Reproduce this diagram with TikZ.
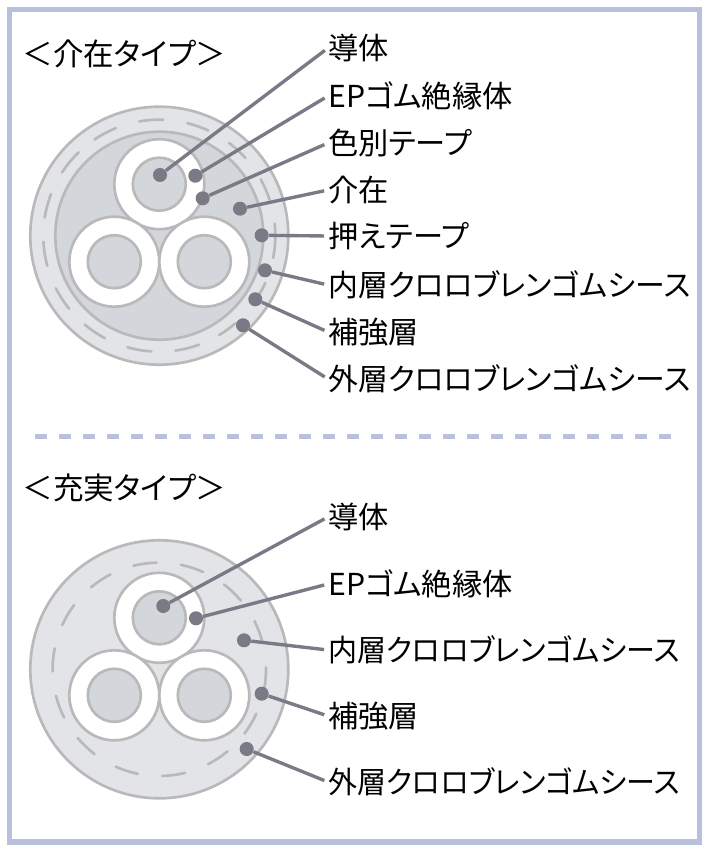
\documentclass[tikz,border=0pt]{standalone}
\usepackage{fontspec}
\setmainfont[RawFeature=+palt]{Noto Sans CJK JP}
\definecolor{framecol}{HTML}{B8C0DE}
\definecolor{ringcol}{HTML}{B9B9B9}
\definecolor{sheathcol}{HTML}{E2E4E8}
\definecolor{fillercol}{HTML}{D3D7DB}
\definecolor{leadcol}{HTML}{7A7A86}
\tikzset{
	ring/.style={draw=ringcol,line width=1.9},
	strand/.style={ring,line cap=round},
	lead/.style={draw=leadcol,line width=2.4,shorten >=2.8},
	dot/.style={circle,fill=leadcol,inner sep=0,minimum size=10},
	part/.style={anchor=west,inner sep=0,font=\fontsize{21.5}{21.5}\selectfont},
	heading/.style={anchor=west,inner sep=0,font=\fontsize{21.7}{21.7}\selectfont}
}
\newcommand{\cores}[2]{%
	\foreach \px/\py in {0/-51.5,-45/26,45/26} {
		\draw [ring,fill=white] (#1+\px,#2+\py) circle (45);
		\draw [ring,fill=fillercol] (#1+\px,#2+\py) circle (26.5);
	}
}
\begin{document}
\begin{tikzpicture}[x=0.25mm,y=-0.25mm]
	\useasboundingbox (0,0) rectangle (709,852);
	\draw [framecol,line width=3.6] (9.5,9.5) rectangle (699.5,842);
	% intervening type
	\node [heading] (head1) at (22.5,54) {＜介在タイプ＞};
	\draw [ring,fill=sheathcol] (159.3,235.7) circle (129);
	\foreach \a/\b in {100/88,76/65,53/42,29/18,6/-11,-24/-36,-49/-59,-70/-82,-94/-106,-118/-130,-141/-153,-165/-177,-201/-189,-226/-213,-248/-236} {
		\draw [strand] ({159.3+116*cos(\a)},{235.7-116*sin(\a)}) arc [start angle=\a,end angle=\b,radius=116,y radius=-116];
	}
	\draw [ring,fill=fillercol] (159.3,235.7) circle (104);
	\cores{159.3}{235.7}
	\node [dot] (d1) at (160,175) {};
	\node [dot] (d2) at (195.3,175.7) {};
	\node [dot] (d3) at (202.7,198.3) {};
	\node [dot] (d4) at (240,208.7) {};
	\node [dot] (d5) at (261.7,235.3) {};
	\node [dot] (d6) at (265,270.3) {};
	\node [dot] (d7) at (255.3,299.3) {};
	\node [dot] (d8) at (243,325.3) {};
	\node [part] (p1) at (328,48) {導体};
	\node [part] (p2) at (328,96) {EPゴム絶縁体};
	\node [part] (p3) at (328,143) {色別テープ};
	\node [part] (p4) at (328,190) {介在};
	\node [part] (p5) at (328,236) {押えテープ};
	\node [part] (p6) at (328,285) {\scalebox{.988}[1]{内層クロロブレンゴムシース}};
	\node [part] (p7) at (328,332) {補強層};
	\node [part] (p8) at (328,379) {\scalebox{.988}[1]{外層クロロブレンゴムシース}};
	\foreach \i in {1,...,8} {
		\draw [lead] (d\i) to (p\i.west);
	}
	\draw [framecol,line width=3.6,dash pattern=on 8.53 off 8.53] (35,436.5) to (672,436.5);
	% solid type
	\node [heading] (head2) at (22.5,488) {＜充実タイプ＞};
	\draw [ring,fill=sheathcol] (159.3,669.3) circle (129);
	\foreach \a in {0,...,13} {
		\draw [strand] ({159.3+106.7*cos(104-25.71*\a)},{669.3-106.7*sin(104-25.71*\a)}) arc [start angle=104-25.71*\a,end angle=91.5-25.71*\a,radius=106.7,y radius=-106.7];
	}
	\cores{159.3}{669.3}
	\node [dot] (d9) at (163.3,606) {};
	\node [dot] (d10) at (196,618.3) {};
	\node [dot] (d11) at (244,640.3) {};
	\node [dot] (d12) at (261.7,693.7) {};
	\node [dot] (d13) at (246.7,749) {};
	\node [part] (p9) at (328,517) {導体};
	\node [part] (p10) at (328,584) {EPゴム絶縁体};
	\node [part] (p11) at (328,650) {\scalebox{.96}[1]{内層クロロブレンゴムシース}};
	\node [part] (p12) at (328,716) {補強層};
	\node [part] (p13) at (328,782) {\scalebox{.96}[1]{外層クロロブレンゴムシース}};
	\foreach \i in {9,...,13} {
		\draw [lead] (d\i) to (p\i.west);
	}
\end{tikzpicture}
\end{document}
